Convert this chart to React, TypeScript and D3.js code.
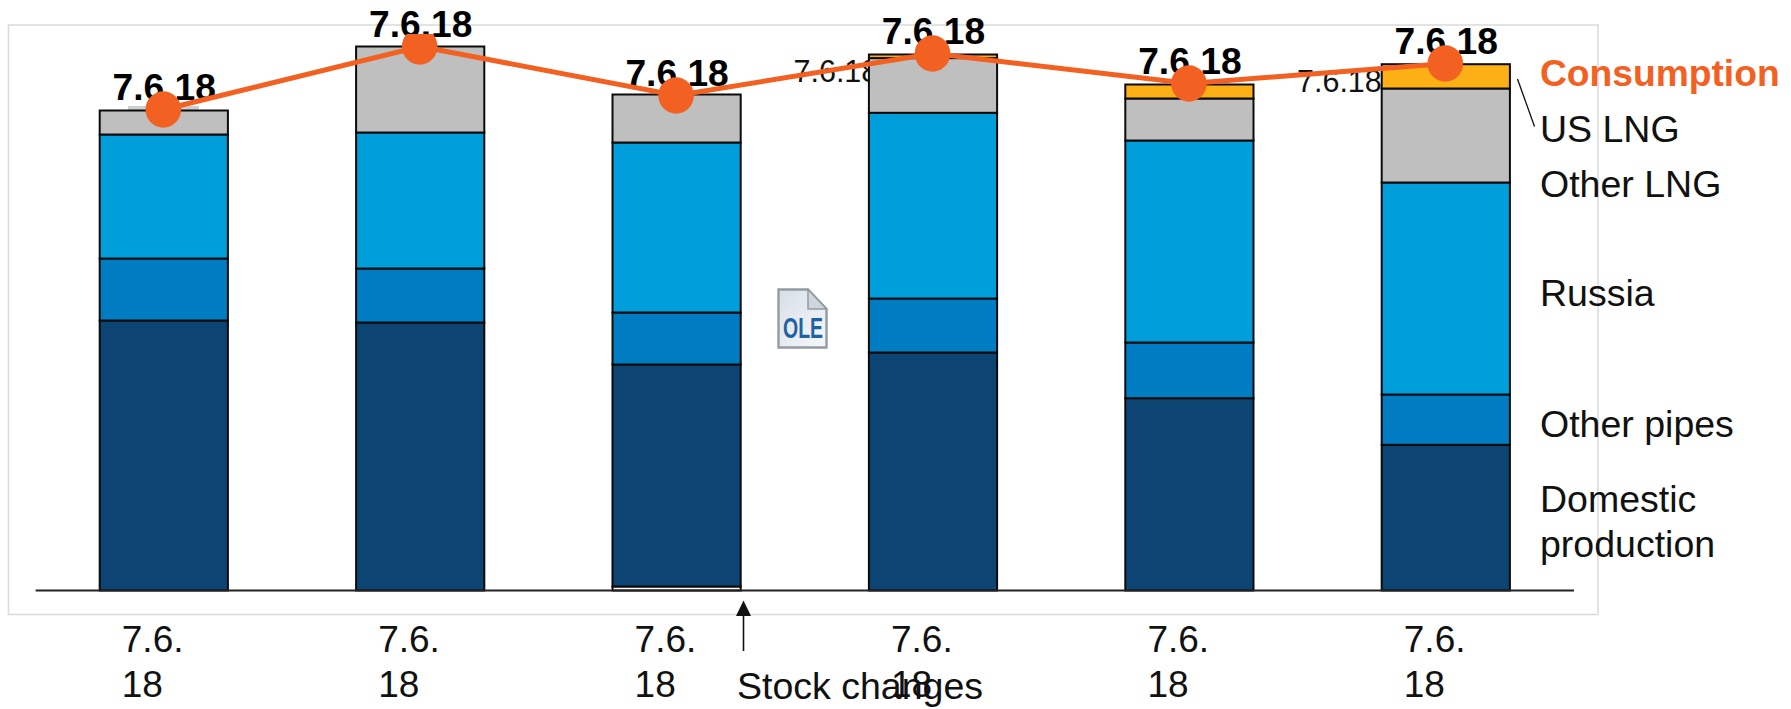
import React from "react";
import * as d3 from "d3";

// Gas supply by source with a consumption overlay, six periods.
const categories = ["7.6.18", "7.6.18", "7.6.18", "7.6.18", "7.6.18", "7.6.18"];
const stockChanges = [0, 0, 4, 0, 0, 0];
const domestic = [270, 268, 222, 238, 192.3, 145.7];
const otherPipes = [62, 54, 52, 54, 55.7, 50.3];
const russia = [124, 136, 170, 185.7, 202, 212];
const otherLng = [24, 86, 48, 54.7, 42, 94];
const usLng = [0, 0, 0, 3.6, 14, 24.3];
const consumption = [481, 544, 495, 537, 507, 527];

const seriesKeys = ["stock", "domestic", "pipes", "russia", "otherLng", "usLng"];
const seriesValues: Record<string, number[]> = {
  stock: stockChanges,
  domestic,
  pipes: otherPipes,
  russia,
  otherLng,
  usLng,
};
const seriesColors: Record<string, string> = {
  stock: "#ffffff",
  domestic: "#0C4573",
  pipes: "#007CC3",
  russia: "#009FDB",
  otherLng: "#BFBFBF",
  usLng: "#FDB015",
};

const legendEntries: [string, number, number][] = [
  ["US LNG", 1540, 142],
  ["Other LNG", 1540, 197],
  ["Russia", 1540, 305.5],
  ["Other pipes", 1540, 436.5],
  ["Domestic", 1540, 512],
  ["production", 1540, 557],
];
const hiddenLabels: [string, number, number][] = [
  ["7.6.18", 793.5, 81.5],
  ["7.6.18", 1297, 92],
];

const WIDTH = 1791;
const HEIGHT = 709;
const ORANGE = "#F26122";
const FONT = "'Liberation Sans', Arial, sans-serif";

export default function App() {
  const x = d3
    .scaleBand<number>()
    .domain(d3.range(categories.length))
    .range([35.6, 1574])
    .paddingInner(0.5)
    .paddingOuter(0.25);
  const y = d3.scaleLinear().domain([0, 590]).range([590.5, 0.5]);

  const rows = categories.map((_, i) =>
    Object.fromEntries(seriesKeys.map((k) => [k, seriesValues[k][i]]))
  );
  const stacked = d3.stack<any>().keys(seriesKeys)(rows);

  const centre = (i: number) => x(i)! + x.bandwidth() / 2;
  const line = d3
    .line<number>()
    .x((_, i) => centre(i))
    .y((d) => y(d));

  return (
    <svg
      width={WIDTH}
      height={HEIGHT}
      viewBox={`0 0 ${WIDTH} ${HEIGHT}`}
      style={{ position: "absolute", left: 0, top: 0, background: "#fff" }}
      fontFamily={FONT}
    >
      <defs>
        <clipPath id="marker-clip">
          <rect x={0} y={34} width={WIDTH} height={HEIGHT - 34} />
        </clipPath>
        <linearGradient id="doc-fill" x1="0" y1="0" x2="1" y2="1">
          <stop offset="0" stopColor="#d7dfe8" />
          <stop offset="1" stopColor="#f6f8fa" />
        </linearGradient>
      </defs>

      <rect x={8.5} y={25} width={1589.5} height={589.5} fill="#fff" stroke="#dcdcdc" strokeWidth={1.6} />
      <rect x={128} y={106} width={71} height={4} fill="#cfcfcf" />

      {hiddenLabels.map(([t, tx, ty], i) => (
        <text key={i} x={tx} y={ty} fontSize={30.5} fill="#111">
          {t}
        </text>
      ))}

      {stacked.map((layer) =>
        layer.map((d, i) =>
          d[1] - d[0] > 0 ? (
            <rect
              key={`${layer.key}-${i}`}
              x={x(i)}
              y={y(d[1])}
              width={x.bandwidth()}
              height={y(d[0]) - y(d[1])}
              fill={seriesColors[layer.key]}
              stroke="#0b0b0b"
              strokeWidth={2}
            />
          ) : null
        )
      )}

      <line x1={35.6} x2={1574} y1={y(0)} y2={y(0)} stroke="#222" strokeWidth={2.2} />

      {categories.map((c, i) => {
        const parts = c.split(/(?<=\.6\.)/);
        return (
          <g key={i} fontSize={37} fill="#111">
            <text x={centre(i) - 42} y={652}>
              {parts[0]}
            </text>
            <text x={centre(i) - 42} y={697}>
              {parts[1]}
            </text>
          </g>
        );
      })}

      {consumption.map((v, i) => (
        <text
          key={i}
          x={centre(i) + 0.5}
          y={y(v) - 10}
          textAnchor="middle"
          fontSize={37.2}
          fontWeight={700}
          fill="#000"
        >
          {categories[i]}
        </text>
      ))}

      <path d={line(consumption)!} fill="none" stroke={ORANGE} strokeWidth={5} />
      <g clipPath="url(#marker-clip)">
        {consumption.map((v, i) => (
          <ellipse key={i} cx={centre(i) - 0.5} cy={y(v)} rx={17.8} ry={18.2} fill={ORANGE} />
        ))}
      </g>

      <text x={1540} y={85.5} fontSize={37.2} fontWeight={700} fill={ORANGE}>
        Consumption
      </text>
      {legendEntries.map(([t, tx, ty]) => (
        <text key={t} x={tx} y={ty} fontSize={37.5} fill="#111">
          {t}
        </text>
      ))}
      <line x1={1517.5} y1={79} x2={1534.5} y2={126.5} stroke="#111" strokeWidth={1.3} />

      <line x1={743.5} y1={651} x2={743.5} y2={612} stroke="#111" strokeWidth={1.6} />
      <path d="M743.5 600.5 L751 616 L736 616 Z" fill="#111" />
      <text x={737} y={698.5} fontSize={37.5} fill="#111">
        Stock changes
      </text>

      <g>
        <path
          d="M778.5 289.5 H808 L826.5 309 V347.5 H778.5 Z"
          fill="url(#doc-fill)"
          stroke="#949ba3"
          strokeWidth={2.4}
        />
        <path d="M808 289.5 V309 H826.5 Z" fill="#cfd6de" stroke="#949ba3" strokeWidth={1.5} />
        <text
          x={783}
          y={338}
          fontSize={29}
          fontWeight={700}
          fill="#1F62A3"
          textLength={40}
          lengthAdjust="spacingAndGlyphs"
        >
          OLE
        </text>
      </g>
    </svg>
  );
}
